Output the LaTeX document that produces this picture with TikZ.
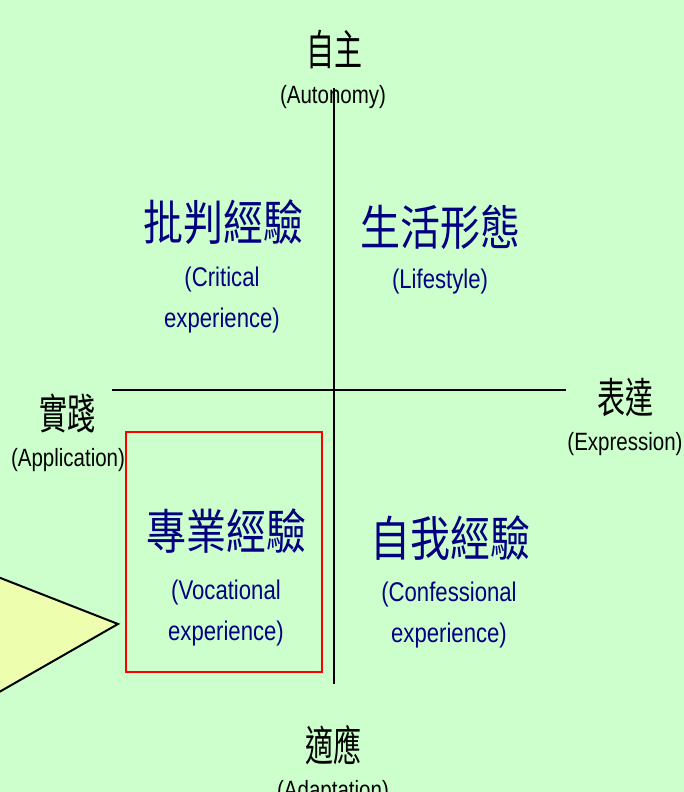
\documentclass[tikz,border=0pt]{standalone}
\usepackage{fontspec}
\setmainfont{Liberation Sans}
\newfontfamily\cjk{Noto Sans CJK TC}
\newfontfamily\narrowsf[FakeStretch=0.82]{Liberation Sans}
\definecolor{bggreen}{HTML}{CCFFCC}
\definecolor{calloutyellow}{HTML}{EDFFAE}
\definecolor{quadblue}{HTML}{000080}
\newcommand\axischars[1]{\scalebox{1}[1.5]{\cjk\fontsize{28}{28}\selectfont #1}}
\newcommand\quadchars[1]{\scalebox{1}[1.2]{\cjk\fontsize{40}{40}\selectfont #1}}

\begin{document}
\begin{tikzpicture}[x=1pt,y=-1pt,line width=2pt,
    axis cjk/.style={inner sep=0pt},
    axis en/.style={inner sep=0pt,font=\narrowsf\fontsize{25}{25}\selectfont},
    quad cjk/.style={inner sep=0pt,text=quadblue},
    quad en/.style={inner sep=0pt,text=quadblue,align=center,font=\narrowsf\fontsize{27}{41}\selectfont},
    focus box/.style={draw=red,minimum width=196pt,minimum height=240pt,inner sep=0pt}]
    \fill[bggreen] (0,0) rectangle (684,792);
    \clip (0,0) rectangle (684,792);

    % callout at the left edge
    \draw[fill=calloutyellow,line join=miter] (-20,570) -- (118,624) -- (-20,703) -- cycle;

    % axes
    \coordinate (top) at (334,88);
    \coordinate (bottom) at (334,684);
    \coordinate (left) at (112,390);
    \coordinate (right) at (566,390);
    \draw (top) -- (bottom);
    \draw (left) -- (right);

    \node[focus box] (vocbox) at (224,552) {};

    % axis labels
    \node[axis cjk] (autonomy) at (334,50) {\axischars{自主}};
    \node[axis en] (autonomyen) at (333,97) {(Autonomy)};
    \node[axis cjk] (application) at (67,413) {\axischars{實踐}};
    \node[axis en] (applicationen) at (68,460) {(Application)};
    \node[axis cjk] (expression) at (625,398) {\axischars{表達}};
    \node[axis en] (expressionen) at (625,444) {(Expression)};
    \node[axis cjk] (adaptation) at (333,745) {\axischars{適應}};
    \node[axis en] (adaptationen) at (333,792) {(Adaptation)};

    % quadrants
    \node[quad cjk] (critical) at (223,222) {\quadchars{批判經驗}};
    \node[quad en] (criticalen) at (222,300) {(Critical\\experience)};
    \node[quad cjk] (lifestyle) at (440,227) {\quadchars{生活形態}};
    \node[quad en] (lifestyleen) at (440,282) {(Lifestyle)};
    \node[quad cjk] (vocational) at (226,531) {\quadchars{專業經驗}};
    \node[quad en] (vocationalen) at (226,613) {(Vocational\\experience)};
    \node[quad cjk] (confessional) at (450,538) {\quadchars{自我經驗}};
    \node[quad en] (confessionalen) at (449,615) {(Confessional\\experience)};
\end{tikzpicture}
\end{document}
